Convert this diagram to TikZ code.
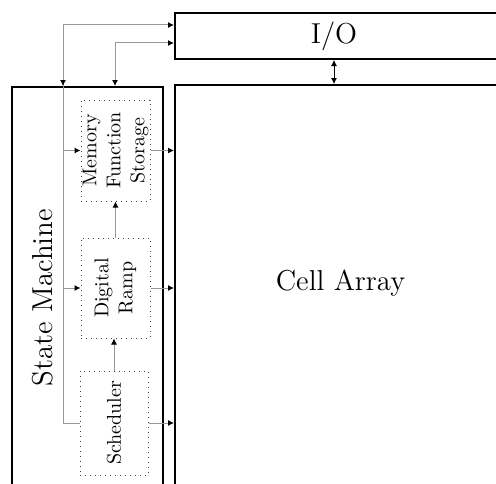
\documentclass[tikz,border=0pt]{standalone}
\usepackage{tikz}
\usetikzlibrary{arrows.meta}

\begin{document}
\begin{tikzpicture}[x=0.5pt,y=0.5pt,
    >={Latex[length=3pt,width=3pt,color=black]},
    block/.style={draw,line width=1pt,inner sep=0pt},
    sub/.style={draw=black!75,dotted,line width=.5pt,inner sep=0pt},
    wire/.style={draw=black!40,line width=.5pt}]
	\clip (0,0) rectangle (496,483);
    \node[block,minimum width=75.5pt,minimum height=203pt] (sm) at (87.5,193) {};
    \node[block,minimum width=172.5pt,minimum height=204pt] (cell) at (347.5,194) {};
    \node[block,minimum width=172.5pt,minimum height=23pt] (io) at (347.5,447) {};
    \node (smtext) at (42.5,185.5) {\rotatebox{90}{\Large State Machine}};
    \node (celltext) at (340.5,200) {\Large Cell Array};
    \node (iotext) at (334,447) {\Large I/O};
    \node[sub,minimum width=34.5pt,minimum height=50.5pt] (mem) at (115.5,332.5)
        {\makebox[0pt]{\rotatebox{90}{\begin{tabular}{@{}c@{}}Memory\\Function\\Storage\end{tabular}}}};
    \node[sub,minimum width=34.5pt,minimum height=50pt] (ramp) at (115.5,195)
        {\makebox[0pt]{\rotatebox{90}{\begin{tabular}{@{}c@{}}Digital\\Ramp\end{tabular}}}};
    \node[sub,minimum width=34pt,minimum height=52pt] (sched) at (114,60)
        {\makebox[0pt]{\rotatebox{90}{Scheduler}}};
    \coordinate (bustop) at (63,458);
    \coordinate (busbot) at (63,60);
    \coordinate (bus2) at (115,440);
    \draw[wire] (sched.west) -- (busbot) -- (bustop);
    \draw[wire,->] (bustop) -- (bustop -| io.west);
    \draw[wire,->] (bustop) -- (bustop |- sm.north);
    \draw[wire,->] (busbot |- ramp.west) -- (ramp.west);
    \draw[wire,->] (busbot |- mem.west) -- (mem.west);
    \draw[wire,<->] (bus2 -| io.west) -- (bus2) -- (bus2 |- sm.north);
    \draw[wire,->] (sched.north) -- (sched.north |- ramp.south);
    \draw[wire,->] (ramp.north) -- (mem.south);
    \draw[wire,->] (mem.east) -- (mem.east -| cell.west);
    \draw[wire,->] (ramp.east) -- (ramp.east -| cell.west);
    \draw[wire,->] (sched.east) -- (sched.east -| cell.west);
    \draw[<->] (io.south -| iotext) -- (iotext |- cell.north);
\end{tikzpicture}
\end{document}
